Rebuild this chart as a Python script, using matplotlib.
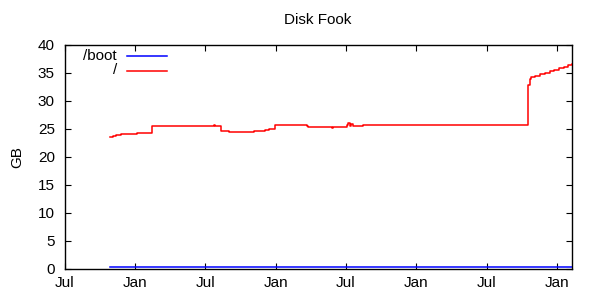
"""Disk usage over time, gnuplot-looking step chart."""

import matplotlib
import numpy as np
import pandas as pd

matplotlib.use("Agg")
import matplotlib.dates as mdates
import matplotlib.pyplot as plt
from matplotlib.lines import Line2D

plt.rcParams["font.family"] = ["Liberation Sans", "DejaVu Sans"]

# ---------------------------------------------------------------------------
# Data
# ---------------------------------------------------------------------------
ROOT_DATES = [
    "2009-10-27", "2009-11-03", "2009-11-12", "2009-11-25", "2009-12-10",
    "2009-12-28", "2010-01-04", "2010-02-13", "2010-03-27", "2010-04-02",
    "2010-05-27", "2010-05-31", "2010-07-24", "2010-07-28", "2010-08-11",
    "2010-09-01", "2010-09-14", "2010-10-01", "2010-10-05", "2010-11-01",
    "2010-11-05", "2010-12-03", "2010-12-14", "2010-12-29", "2011-01-20",
    "2011-01-25", "2011-02-19", "2011-03-22", "2011-03-25", "2011-05-26",
    "2011-05-30", "2011-07-04", "2011-07-08", "2011-07-12", "2011-07-16",
    "2011-07-20", "2011-08-14", "2012-10-18", "2012-10-21", "2012-10-24",
    "2012-11-05", "2012-11-18", "2012-11-30", "2012-12-12", "2012-12-24",
    "2013-01-06", "2013-01-17", "2013-01-28", "2013-02-07",
]
ROOT_GB = [
    23.5, 23.75, 23.95, 24.05, 24.15,
    24.05, 24.2, 25.45, 25.6, 25.5,
    25.6, 25.5, 25.65, 25.5, 24.6,
    24.4, 24.55, 24.4, 24.55, 24.45,
    24.6, 24.75, 25.05, 25.65, 25.8,
    25.7, 25.8, 25.55, 25.35, 25.25,
    25.35, 25.75, 26.05, 25.45, 25.85,
    25.5, 25.65, 32.9, 34.0, 34.3,
    34.5, 34.75, 35.0, 35.3, 35.6,
    35.85, 36.1, 36.4, 36.65,
]

BOOT_DATES = ["2009-10-27", "2013-02-07"]
BOOT_GB = [0.3, 0.3]

X_START = "2009-07-01"
X_END = "2013-02-08"
Y_TICKS = list(range(0, 45, 5))

FS = 11


def main() -> None:
    root_x = pd.to_datetime(ROOT_DATES)
    boot_x = pd.to_datetime(BOOT_DATES)

    fig = plt.figure(figsize=(6, 3), dpi=100)
    ax = fig.add_axes([64.5 / 600, 1 - 269 / 300, (572 - 64.5) / 600, (269 - 45) / 300])

    ax.plot(boot_x, BOOT_GB, color="#0000ff", lw=1.1, drawstyle="steps-post", zorder=3)
    ax.plot(root_x, ROOT_GB, color="#ff0000", lw=1.1, drawstyle="steps-post", zorder=3)

    ax.set_xlim(pd.Timestamp(X_START), pd.Timestamp(X_END))
    ax.set_ylim(0, 40)
    ax.set_yticks(Y_TICKS)
    ax.xaxis.set_major_locator(mdates.MonthLocator(bymonth=[1, 7]))
    ax.xaxis.set_major_formatter(mdates.DateFormatter("%b"))

    ax.tick_params(direction="in", length=4, width=0.8, top=True, right=True,
                   labelsize=FS)
    ax.tick_params(axis="y", pad=7)
    ax.tick_params(axis="x", pad=5)
    for sp in ax.spines.values():
        sp.set_linewidth(1.0)

    ax.set_ylabel("GB", fontsize=FS, labelpad=10)
    fig.text(318 / 600, 1 - 20 / 300, "Disk Fook", ha="center", va="center",
             fontsize=FS)

    # gnuplot-style key: right-aligned labels then sample line
    for label, color, ypx in [("/boot", "#0000ff", 56), ("/", "#ff0000", 70.5)]:
        yf = 1 - ypx / 300
        fig.text(117 / 600, yf, label, ha="right", va="center", fontsize=FS)
        fig.add_artist(Line2D([127 / 600, 167 / 600], [yf, yf], color=color,
                              lw=1.1, transform=fig.transFigure))

    fig.savefig("out.png", dpi=100)
    plt.close(fig)


if __name__ == "__main__":
    main()
